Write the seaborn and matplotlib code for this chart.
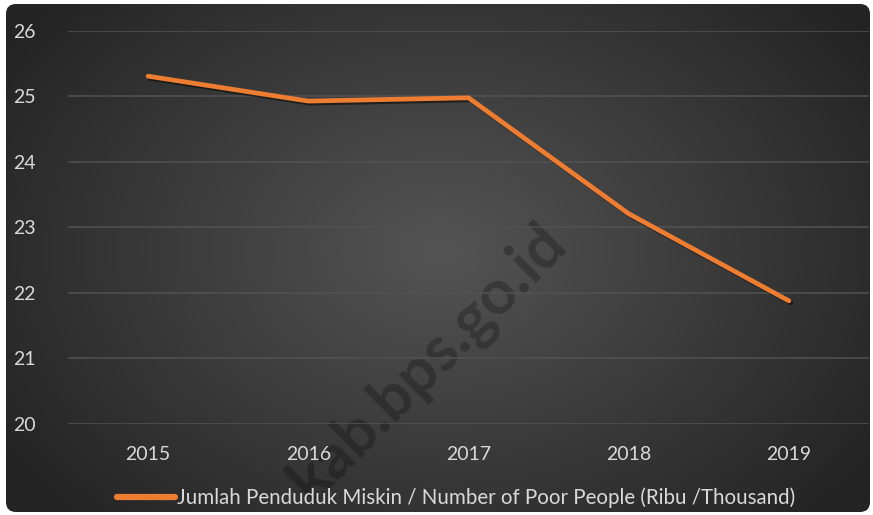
import numpy as np
import pandas as pd
import seaborn as sns
import matplotlib.pyplot as plt
import matplotlib.patheffects as pe
from matplotlib.patches import FancyBboxPatch

years = ['2015', '2016', '2017', '2018', '2019']
poor_people = [25.31, 24.93, 24.98, 23.21, 21.88]
series_label = 'Jumlah Penduduk Miskin / Number of Poor People (Ribu /Thousand)'
y_ticks = [20, 21, 22, 23, 24, 25, 26]

sns.set_style('dark')
plt.rcParams['font.family'] = ['Lato', 'DejaVu Sans']

W, H = 873, 515
fig = plt.figure(figsize=(W / 100, H / 100), dpi=100, facecolor='white')

# background panel with radial gradient
bg = fig.add_axes([0, 0, 1, 1])
bg.set_xlim(0, W)
bg.set_ylim(H, 0)
bg.axis('off')
yy, xx = np.mgrid[0:H, 0:W]
r = np.sqrt(((xx - 440) / 520) ** 2 + ((yy - 250) / 380) ** 2)
shade = np.clip(0.33 - 0.19 * r, 0.14, 0.33)
img = bg.imshow(np.dstack([shade] * 3), extent=(0, W, H, 0), interpolation='bilinear')
panel = FancyBboxPatch((6, 4), 864, 508, boxstyle='round,pad=0,rounding_size=10',
                       transform=bg.transData, facecolor='none', edgecolor='none')
bg.add_patch(panel)
img.set_clip_path(panel)

# watermark (cut off by the panel edge, as in the source)
wm = bg.text(428, 362, 'kab.bps.go.id', rotation=45, fontsize=45, fontweight='bold',
             color='black', alpha=0.25, ha='center', va='center')
wm.set_clip_path(panel)

ax = fig.add_axes([68 / W, 1 - 424 / H, 801 / W, 393 / H])
ax.set_facecolor('none')

df = pd.DataFrame({'year': years, 'value': poor_people})
sns.lineplot(data=df, x='year', y='value', ax=ax, color='#ED7D31', linewidth=3.4,
             label=series_label, sort=False,
             path_effects=[pe.SimpleLineShadow(offset=(1.5, -1.5), alpha=0.5),
                           pe.Normal()])
ax.lines[0].set_solid_capstyle('round')
ax.lines[0].set_solid_joinstyle('round')

ax.set_xlim(-0.5, 4.5)
ax.set_ylim(20, 26)
ax.set_yticks(y_ticks)
ax.grid(axis='y', color='#525252', linewidth=1.1)
ax.grid(axis='x', visible=False)
for s in ax.spines.values():
    s.set_visible(False)
ax.tick_params(axis='both', length=0, colors='#d9d9d9', labelsize=14)
ax.tick_params(axis='y', pad=23)
ax.tick_params(axis='x', pad=16)
ax.set_xlabel('')
ax.set_ylabel('')

leg = ax.legend(loc='center', bbox_to_anchor=(456 / W, 1 - 498 / H),
                bbox_transform=fig.transFigure, frameon=False, fontsize=14.8,
                handlelength=2.8, handletextpad=0.1, labelcolor='#d9d9d9')
for h in leg.get_lines():
    h.set_linewidth(4.5)
    h.set_solid_capstyle('round')
    h.set_path_effects([])

fig.savefig('out.png', dpi=100, facecolor='white')
